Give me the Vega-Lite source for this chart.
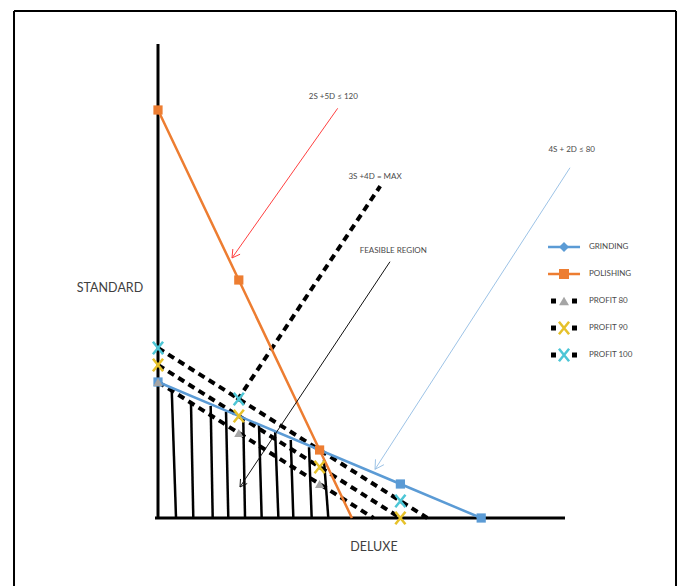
{
  "$schema": "https://vega.github.io/schema/vega-lite/v6.json",
  "width": 680,
  "height": 586,
  "autosize": "none",
  "padding": 0,
  "background": "white",
  "config": {"view": {"stroke": null}},
  "resolve": {"scale": {"shape": "independent"}},
  "datasets": {
    "frame": [
      {"x": -17.82, "y": -12, "x2": -17.82, "y2": 74.56},
      {"x": 64.11, "y": -12, "x2": 64.11, "y2": 74.56},
      {"x": -17.82, "y": 74.56, "x2": 64.11, "y2": 74.56}
    ],
    "hatch": [
      {"x": 2.23, "y": 0, "x2": 1.70, "y2": 18.82},
      {"x": 4.37, "y": 0, "x2": 4.08, "y2": 17.09},
      {"x": 6.77, "y": 0, "x2": 6.52, "y2": 16.47},
      {"x": 8.70, "y": 0, "x2": 8.42, "y2": 15.63},
      {"x": 10.77, "y": 0, "x2": 10.56, "y2": 14.16},
      {"x": 12.83, "y": 0, "x2": 12.5, "y2": 13.68},
      {"x": 14.9, "y": 0, "x2": 14.5, "y2": 12.69},
      {"x": 16.75, "y": 0, "x2": 16.43, "y2": 11.47},
      {"x": 19.02, "y": 0, "x2": 18.69, "y2": 10.4},
      {"x": 21.08, "y": 0, "x2": 20.54, "y2": 8.53}
    ],
    "axes": [
      {"x": 0, "y": 0, "x2": 0, "y2": 69.7},
      {"x": -0.37, "y": 0, "x2": 50.37, "y2": 0}
    ],
    "solid": [
      {"series": "GRINDING", "o": 1, "D": 0, "S": 20},
      {"series": "GRINDING", "o": 2, "D": 30, "S": 5},
      {"series": "GRINDING", "o": 3, "D": 40, "S": 0},
      {"series": "POLISHING", "o": 1, "D": 0, "S": 60},
      {"series": "POLISHING", "o": 2, "D": 10, "S": 35},
      {"series": "POLISHING", "o": 3, "D": 20, "S": 10},
      {"series": "POLISHING", "o": 4, "D": 24, "S": 0}
    ],
    "dashed": [
      {"series": "PROFIT 80", "o": 1, "D": 0, "S": 20},
      {"series": "PROFIT 80", "o": 2, "D": 10, "S": 12.5},
      {"series": "PROFIT 80", "o": 3, "D": 20, "S": 5},
      {"series": "PROFIT 80", "o": 4, "D": 26.67, "S": 0},
      {"series": "PROFIT 90", "o": 1, "D": 0, "S": 22.5},
      {"series": "PROFIT 90", "o": 2, "D": 10, "S": 15},
      {"series": "PROFIT 90", "o": 3, "D": 20, "S": 7.5},
      {"series": "PROFIT 90", "o": 4, "D": 30, "S": 0},
      {"series": "PROFIT 100", "o": 1, "D": 0, "S": 25},
      {"series": "PROFIT 100", "o": 2, "D": 10, "S": 17.5},
      {"series": "PROFIT 100", "o": 3, "D": 20, "S": 10},
      {"series": "PROFIT 100", "o": 4, "D": 30, "S": 2.5},
      {"series": "PROFIT 100", "o": 5, "D": 33.33, "S": 0},
      {"series": "MAX", "o": 1, "D": 9.8, "S": 17.3},
      {"series": "MAX", "o": 2, "D": 27.5, "S": 48.8}
    ],
    "filledMarkers": [
      {"series": "GRINDING", "D": 0, "S": 20},
      {"series": "GRINDING", "D": 30, "S": 5},
      {"series": "GRINDING", "D": 40, "S": 0},
      {"series": "POLISHING", "D": 0, "S": 60},
      {"series": "POLISHING", "D": 10, "S": 35},
      {"series": "POLISHING", "D": 20, "S": 10},
      {"series": "PROFIT 80", "D": 0, "S": 20},
      {"series": "PROFIT 80", "D": 10, "S": 12.5},
      {"series": "PROFIT 80", "D": 20, "S": 5}
    ],
    "xMarkers": [
      {"series": "PROFIT 90", "D": 0, "S": 22.5},
      {"series": "PROFIT 90", "D": 10, "S": 15},
      {"series": "PROFIT 90", "D": 20, "S": 7.5},
      {"series": "PROFIT 90", "D": 30, "S": 0},
      {"series": "PROFIT 100", "D": 0, "S": 25},
      {"series": "PROFIT 100", "D": 10, "S": 17.5},
      {"series": "PROFIT 100", "D": 30, "S": 2.5}
    ],
    "arrows": [
      {"arrow": "red", "x": 22.24, "y": 60.25, "x2": 9.16, "y2": 38.24},
      {"arrow": "red", "x": 9.16, "y": 38.24, "x2": 10.16, "y2": 38.79},
      {"arrow": "red", "x": 9.16, "y": 38.24, "x2": 9.26, "y2": 39.56},
      {"arrow": "black", "x": 28.71, "y": 37.69, "x2": 10.15, "y2": 4.56},
      {"arrow": "black", "x": 10.15, "y": 4.56, "x2": 11.04, "y2": 5.07},
      {"arrow": "black", "x": 10.15, "y": 4.56, "x2": 10.21, "y2": 5.74},
      {"arrow": "blue", "x": 50.99, "y": 51.51, "x2": 26.86, "y2": 7.16},
      {"arrow": "blue", "x": 26.86, "y": 7.16, "x2": 27.96, "y2": 7.84},
      {"arrow": "blue", "x": 26.86, "y": 7.16, "x2": 26.92, "y2": 8.63}
    ],
    "notes": [
      {"text": "2S +5D ≤ 120", "D": 21.7, "S": 61.87},
      {"text": "3S +4D = MAX", "D": 26.86, "S": 50.19},
      {"text": "FEASIBLE REGION", "D": 29.12, "S": 39.3},
      {"text": "4S + 2D ≤ 80", "D": 51.2, "S": 54.12}
    ],
    "titles": [
      {"text": "STANDARD", "D": -5.94, "S": 33.78},
      {"text": "DELUXE", "D": 26.73, "S": -4.26}
    ],
    "legendLines": [
      {"series": "GRINDING", "x": 48.27, "x2": 52.23, "S": 39.85},
      {"series": "POLISHING", "x": 48.27, "x2": 52.23, "S": 35.88}
    ],
    "legendDots": [
      {"D": 48.95, "S": 31.91}, {"D": 51.55, "S": 31.91},
      {"D": 48.95, "S": 27.94}, {"D": 51.55, "S": 27.94},
      {"D": 48.95, "S": 23.97}, {"D": 51.55, "S": 23.97}
    ],
    "legendFilled": [
      {"series": "GRINDING", "D": 50.25, "S": 39.85},
      {"series": "POLISHING", "D": 50.25, "S": 35.88},
      {"series": "PROFIT 80", "D": 50.25, "S": 31.91}
    ],
    "legendX": [
      {"series": "PROFIT 90", "D": 50.25, "S": 27.94},
      {"series": "PROFIT 100", "D": 50.25, "S": 23.97}
    ],
    "legendText": [
      {"text": "GRINDING", "D": 53.34, "S": 39.85},
      {"text": "POLISHING", "D": 53.34, "S": 35.88},
      {"text": "PROFIT 80", "D": 53.34, "S": 31.91},
      {"text": "PROFIT 90", "D": 53.34, "S": 27.94},
      {"text": "PROFIT 100", "D": 53.34, "S": 23.97}
    ]
  },
  "layer": [
    {
      "data": {"name": "frame"},
      "mark": {"type": "rule", "color": "black", "strokeWidth": 2},
      "encoding": {
        "x": {"field": "x", "type": "quantitative", "scale": {"domain": [-19.554, 64.604], "nice": false, "zero": false}, "axis": null},
        "y": {"field": "y", "type": "quantitative", "scale": {"domain": [-10, 76.176], "nice": false, "zero": false}, "axis": null},
        "x2": {"field": "x2"},
        "y2": {"field": "y2"}
      }
    },
    {
      "data": {"name": "hatch"},
      "mark": {"type": "rule", "color": "black", "strokeWidth": 2.5},
      "encoding": {
        "x": {"field": "x", "type": "quantitative"},
        "y": {"field": "y", "type": "quantitative"},
        "x2": {"field": "x2"},
        "y2": {"field": "y2"}
      }
    },
    {
      "data": {"name": "axes"},
      "mark": {"type": "rule", "color": "black", "strokeWidth": 3},
      "encoding": {
        "x": {"field": "x", "type": "quantitative"},
        "y": {"field": "y", "type": "quantitative"},
        "x2": {"field": "x2"},
        "y2": {"field": "y2"}
      }
    },
    {
      "data": {"name": "dashed"},
      "mark": {"type": "line", "color": "black", "strokeWidth": 4, "strokeDash": [7, 5], "strokeCap": "butt"},
      "encoding": {
        "x": {"field": "D", "type": "quantitative"},
        "y": {"field": "S", "type": "quantitative"},
        "detail": {"field": "series"},
        "order": {"field": "o"}
      }
    },
    {
      "data": {"name": "solid"},
      "mark": {"type": "line", "strokeWidth": 2.5},
      "encoding": {
        "x": {"field": "D", "type": "quantitative"},
        "y": {"field": "S", "type": "quantitative"},
        "color": {"field": "series", "type": "nominal", "scale": {"domain": ["GRINDING", "POLISHING", "PROFIT 80", "PROFIT 90", "PROFIT 100"], "range": ["#5B9BD5", "#ED7D31", "#A5A5A5", "#E6C12A", "#4DC6D6"]}, "legend": null},
        "order": {"field": "o"}
      }
    },
    {
      "data": {"name": "filledMarkers"},
      "mark": {"type": "point", "filled": true, "opacity": 1},
      "encoding": {
        "x": {"field": "D", "type": "quantitative"},
        "y": {"field": "S", "type": "quantitative"},
        "color": {"field": "series", "type": "nominal", "legend": null},
        "shape": {"field": "series", "type": "nominal", "scale": {"domain": ["GRINDING", "POLISHING", "PROFIT 80"], "range": ["square", "square", "triangle-up"]}, "legend": null},
        "size": {"value": 85}
      }
    },
    {
      "data": {"name": "xMarkers"},
      "mark": {"type": "point", "filled": false, "opacity": 1, "strokeWidth": 2.5, "shape": "M-0.8,-1L0.8,1M0.8,-1L-0.8,1", "size": 160},
      "encoding": {
        "x": {"field": "D", "type": "quantitative"},
        "y": {"field": "S", "type": "quantitative"},
        "color": {"field": "series", "type": "nominal", "legend": null}
      }
    },
    {
      "data": {"name": "arrows"},
      "mark": {"type": "rule", "strokeWidth": 1},
      "encoding": {
        "x": {"field": "x", "type": "quantitative"},
        "y": {"field": "y", "type": "quantitative"},
        "x2": {"field": "x2"},
        "y2": {"field": "y2"},
        "stroke": {"field": "arrow", "type": "nominal", "scale": {"domain": ["red", "black", "blue"], "range": ["#FF4040", "#111111", "#9DC3E6"]}, "legend": null}
      }
    },
    {
      "data": {"name": "notes"},
      "mark": {"type": "text", "font": "Lato", "fontSize": 8, "color": "#4a4a4a", "align": "center", "baseline": "middle"},
      "encoding": {
        "x": {"field": "D", "type": "quantitative"},
        "y": {"field": "S", "type": "quantitative"},
        "text": {"field": "text"}
      }
    },
    {
      "data": {"name": "titles"},
      "mark": {"type": "text", "font": "Lato", "fontSize": 12.5, "color": "#404040", "align": "center", "baseline": "middle"},
      "encoding": {
        "x": {"field": "D", "type": "quantitative"},
        "y": {"field": "S", "type": "quantitative"},
        "text": {"field": "text"}
      }
    },
    {
      "data": {"name": "legendLines"},
      "mark": {"type": "rule", "strokeWidth": 2.5},
      "encoding": {
        "x": {"field": "x", "type": "quantitative"},
        "x2": {"field": "x2"},
        "y": {"field": "S", "type": "quantitative"},
        "color": {"field": "series", "type": "nominal", "legend": null}
      }
    },
    {
      "data": {"name": "legendDots"},
      "mark": {"type": "point", "filled": true, "opacity": 1, "shape": "square", "color": "black", "size": 25},
      "encoding": {
        "x": {"field": "D", "type": "quantitative"},
        "y": {"field": "S", "type": "quantitative"}
      }
    },
    {
      "data": {"name": "legendFilled"},
      "mark": {"type": "point", "filled": true, "opacity": 1},
      "encoding": {
        "x": {"field": "D", "type": "quantitative"},
        "y": {"field": "S", "type": "quantitative"},
        "color": {"field": "series", "type": "nominal", "legend": null},
        "shape": {"field": "series", "type": "nominal", "scale": {"domain": ["GRINDING", "POLISHING", "PROFIT 80"], "range": ["diamond", "square", "triangle-up"]}, "legend": null},
        "size": {"value": 100}
      }
    },
    {
      "data": {"name": "legendX"},
      "mark": {"type": "point", "filled": false, "opacity": 1, "strokeWidth": 2.5, "shape": "M-0.8,-1L0.8,1M0.8,-1L-0.8,1", "size": 160},
      "encoding": {
        "x": {"field": "D", "type": "quantitative"},
        "y": {"field": "S", "type": "quantitative"},
        "color": {"field": "series", "type": "nominal", "legend": null}
      }
    },
    {
      "data": {"name": "legendText"},
      "mark": {"type": "text", "font": "Lato", "fontSize": 8, "color": "#4a4a4a", "align": "left", "baseline": "middle"},
      "encoding": {
        "x": {"field": "D", "type": "quantitative"},
        "y": {"field": "S", "type": "quantitative"},
        "text": {"field": "text"}
      }
    }
  ]
}
